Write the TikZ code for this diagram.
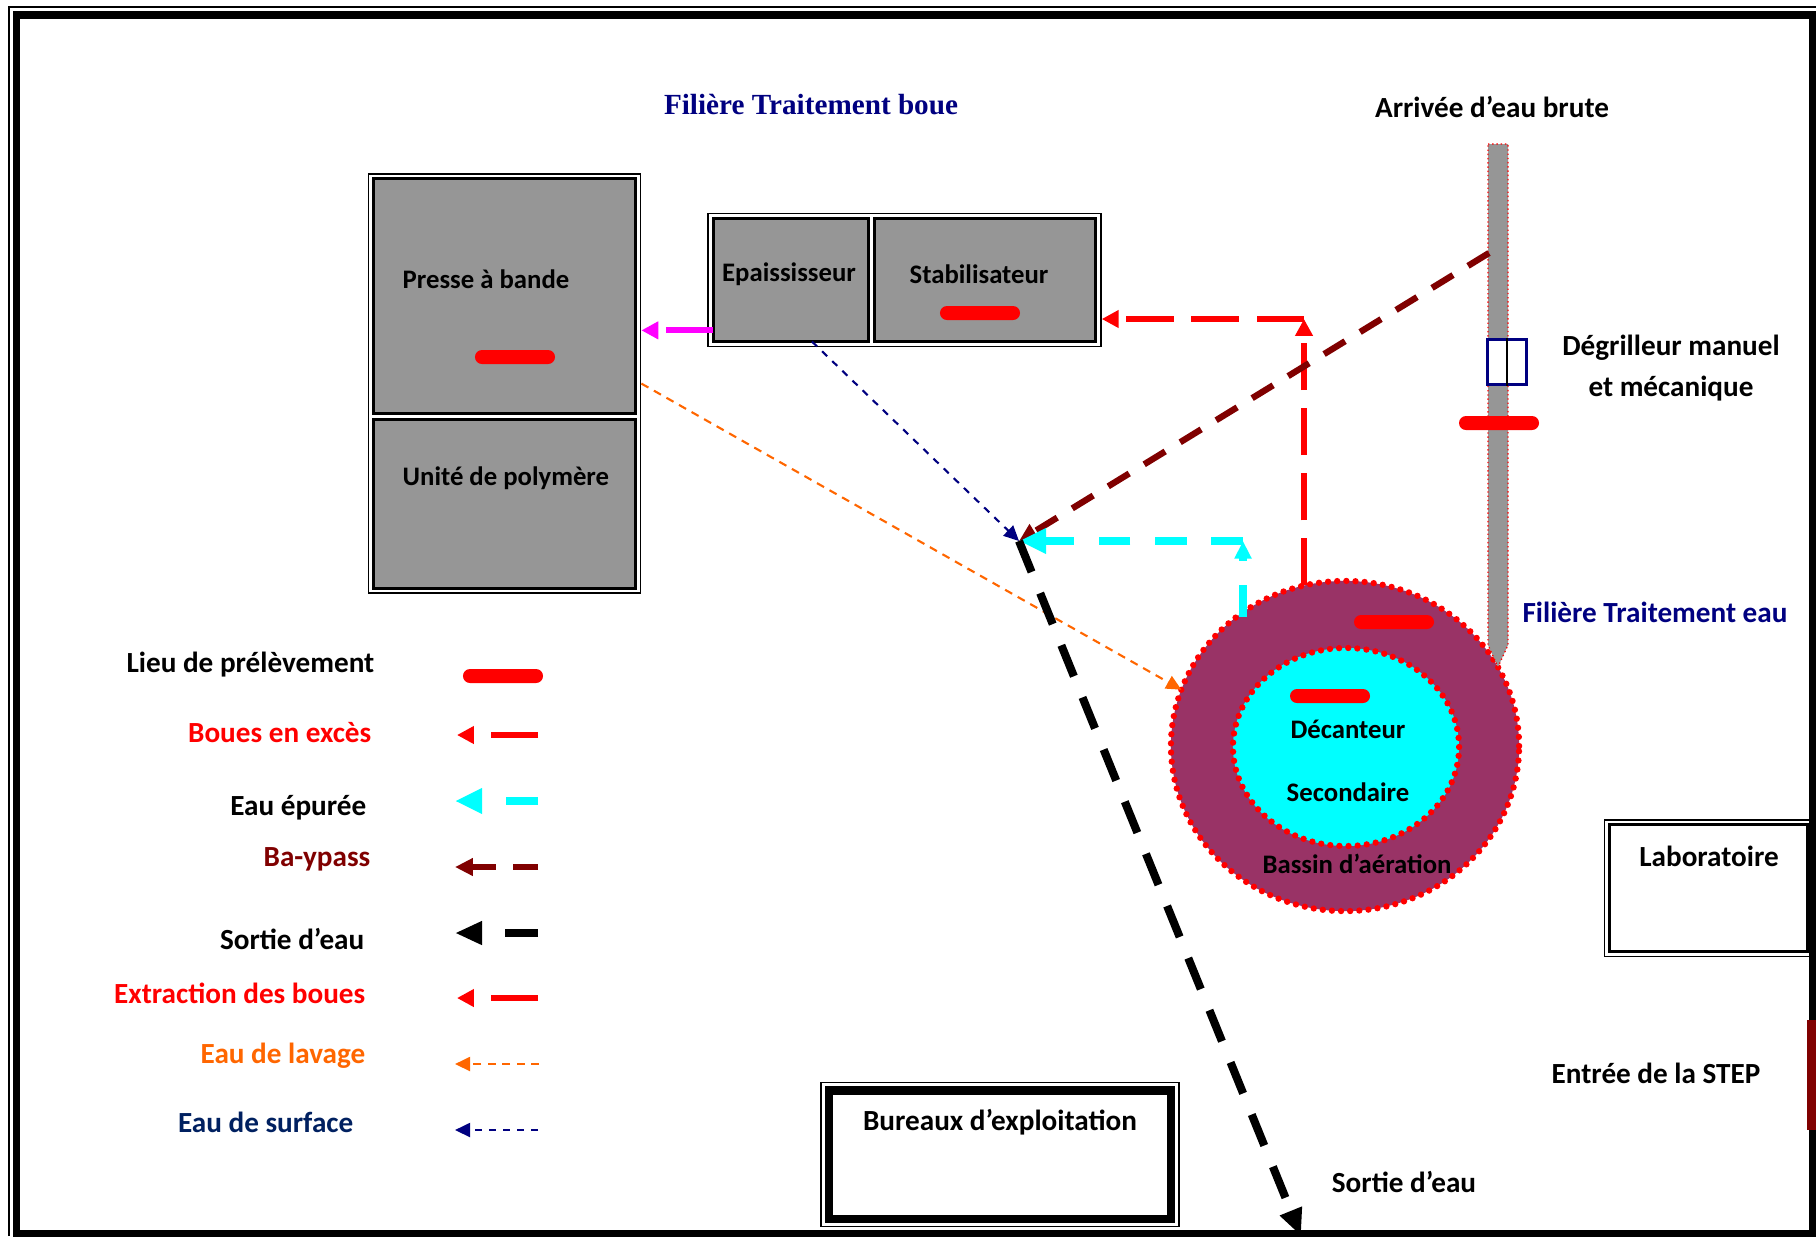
\documentclass[tikz,border=0pt]{standalone}
\usepackage{fontspec}
\setmainfont{Carlito}
\newfontfamily\serifbold{Liberation Serif}
\usetikzlibrary{arrows.meta,positioning,fit,shapes.geometric,calc}

\definecolor{unitgray}{HTML}{969696}
\definecolor{basinpurple}{HTML}{993366}
\definecolor{bypassred}{HTML}{800000}
\definecolor{lavageorange}{HTML}{FF6600}
\definecolor{filiereblue}{HTML}{000080}
\definecolor{surfaceblue}{HTML}{002060}
\definecolor{epureecyan}{HTML}{00FFFF}
\definecolor{purgemagenta}{HTML}{FF00FF}
\definecolor{samplered}{HTML}{FF0000}

\begin{document}
\begin{tikzpicture}[
    x=0.01cm, y=-0.01cm,
    font=\fontsize{8.3}{10}\selectfont\bfseries,
    unit/.style={draw, fill=unitgray, line width=0.85pt, inner sep=0pt, outer sep=0pt},
    unitframe/.style={draw, line width=0.45pt, inner sep=0.05cm},
    unittext/.style={inner sep=0pt, font=\fontsize{7.6}{9}\selectfont\bfseries},
    sample/.style={fill=samplered, rounded corners=0.07cm, minimum width=0.8cm, minimum height=0.14cm, inner sep=0pt},
    tank/.style={ellipse, draw=samplered, line width=1.8pt, dash pattern=on 0pt off 2.6pt, line cap=round, inner sep=0pt, outer sep=0pt},
    pipe/.style={fill=unitgray, draw=samplered, line width=0.35pt, dash pattern=on 0.4pt off 0.8pt},
    legendtext/.style={anchor=east, inner sep=0pt},
    excess/.style={draw=samplered, line width=1.7pt, dash pattern=on 13.5pt off 5pt, -{Triangle[length=4.8pt,width=4.8pt]}},
    purge/.style={excess, draw=purgemagenta},
    epuree/.style={draw=epureecyan, line width=2.2pt, dash pattern=on 9pt off 7pt, -{Triangle[length=7.7pt,width=6.8pt]}},
    bypass/.style={draw=bypassred, line width=1.8pt, dash pattern=on 7pt off 5pt, -{Triangle[length=5.1pt,width=4.8pt]}},
    sortie/.style={draw=black, line width=2.3pt, dash pattern=on 9.5pt off 6.5pt, -{Triangle[length=7.7pt,width=6.3pt]}},
    lavage/.style={draw=lavageorange, line width=0.6pt, dash pattern=on 2.3pt off 1.8pt, -{Triangle[length=4.3pt,width=4pt]}},
    surface/.style={draw=filiereblue, line width=0.6pt, dash pattern=on 2pt off 2pt, -{Triangle[length=4.3pt,width=4pt]}}
]
\useasboundingbox (0,0) rectangle (1816,1236);

% ---- page frame ----
\draw[line width=0.45pt] (9,1236) -- (9,7) -- (1816,7);
\draw[line width=2pt] (16.5,15) rectangle (1812,1233.5);

% ---- Filiere boue ----
\node[text=filiereblue, font=\serifbold\fontsize{8.3}{10}\selectfont\bfseries] (tfiliereboue) at (811,105) {Filière Traitement boue};

\node[unit, minimum width=2.62cm, minimum height=2.34cm] (presse) at (504.5,296) {};
\node[unit, minimum width=2.62cm, minimum height=1.69cm, below=0.06cm of presse] (polymere) {};
\node[unitframe, fit=(presse)(polymere)] (presseframe) {};
\node[unittext, anchor=west] (tpresse) at (402,279) {Presse à bande};
\node[unittext, anchor=west] (tpolymere) at (402,478) {Unité de polymère};

\node[unit, minimum width=1.55cm, minimum height=1.23cm] (epaiss) at (790.75,280) {};
\node[unit, minimum width=2.21cm, minimum height=1.23cm, right=0.065cm of epaiss] (stabil) {};
\node[unitframe, fit=(epaiss)(stabil)] (epaissframe) {};
\node[unittext] (tepaiss) at (789,274) {Epaississeur};
\node[unittext] (tstabil) at (979,274) {Stabilisateur};

% ---- Filiere eau ----
\node (tarrivee) at (1492,107) {Arrivée d’eau brute};
\node[tank, fill=basinpurple, minimum width=3.48cm, minimum height=3.30cm] (basin) at (1345,746) {};
\node[tank, fill=epureecyan, minimum width=2.26cm, minimum height=1.98cm] (decanteur) at (1346,747) {};
\node[unittext] (tdecant) at (1348,729) {Décanteur};
\node[unittext] (tsecond) at (1348,792) {Secondaire};
\node[unittext] (tbassin) at (1357,864) {Bassin d’aération};

\draw[pipe] (1488,144) -- (1508,144) -- (1508,645) -- (1498,667) -- (1488,645) -- cycle;
\node[draw=filiereblue, fill=white, line width=0.6pt, minimum width=0.39cm, minimum height=0.45cm, inner sep=0pt] (degrilleur) at (1507,362) {};
\draw[line width=0.6pt] (degrilleur.north) -- (degrilleur.south);
\node[align=center, font=\fontsize{8.3}{11.9}\selectfont\bfseries] (tdegrilleur) at (1671,368) {Dégrilleur manuel\\et mécanique};
\node[text=filiereblue] (tfiliereeau) at (1655,612) {Filière Traitement eau};

% ---- batiments ----
\node[unit, fill=white, minimum width=1.98cm, minimum height=1.265cm] (labo) at (1708.5,888) {};
\node[unitframe, fit=(labo)] (laboframe) {};
\node (tlabo) at (1709,856) {Laboratoire};

\node[draw, line width=2.3pt, minimum width=3.42cm, minimum height=1.28cm, inner sep=0pt, outer sep=0pt] (bureaux) at (1000,1154.5) {};
\node[unitframe, inner sep=0.08cm, fit=(bureaux)] (bureauxframe) {};
\node (tbureaux) at (1000,1122) {Bureaux d’exploitation};

\node[fill=bypassred, minimum width=0.09cm, minimum height=1.1cm, inner sep=0pt] (entreebar) at (1811.5,1075) {};
\node (tentree) at (1656,1073) {Entrée de la STEP};
\node (tsortie) at (1404,1182) {Sortie d’eau};

% ---- circuits ----
\coordinate (junction) at (1019,541);
\coordinate (excesscorner) at (1304,319);
\coordinate (epureecorner) at (1243,541);
\coordinate (pipetap) at (1489,253);
\coordinate (sortieend) at (1301,1236);

\draw[lavage] (presseframe.east) -- (basin.161);
\draw[surface] (epaiss.-71) -- (junction);
\draw[purge] (epaiss.213) -- (epaiss.213 -| presseframe.east);
\draw[excess] (excesscorner |- basin.104) -- (excesscorner);
\draw[excess] (excesscorner) -- (excesscorner -| epaissframe.east);
\draw[bypass] (pipetap) -- (junction);
\draw[epuree, -{Triangle[length=5pt,width=4.6pt]}] (epureecorner |- basin.130) -- (epureecorner);
\draw[epuree] (epureecorner) -- (junction);
\draw[sortie] (junction) -- (sortieend);

% ---- points de prelevement ----
\node[sample] (spresse) at (515,357) {};
\node[sample] (sstabil) at (980,313) {};
\node[sample] (spipe) at (1499,423) {};
\node[sample] (sbasin) at (1394,622) {};
\node[sample] (sdecant) at (1330,696) {};

% ---- legende ----
\node[legendtext] (lglieu) at (375,665) {Lieu de prélèvement};
\node[legendtext, text=samplered] (lgexcess) at (372,733) {Boues en excès};
\node[legendtext] (lgepuree) at (367,808) {Eau épurée};
\node[legendtext, text=bypassred] (lgbypass) at (371,859) {Ba-ypass};
\node[legendtext] (lgsortie) at (365,939) {Sortie d’eau};
\node[legendtext, text=samplered] (lgextract) at (366,993) {Extraction des boues};
\node[legendtext, text=lavageorange] (lglavage) at (366,1056) {Eau de lavage};
\node[legendtext, text=surfaceblue] (lgsurface) at (354,1122) {Eau de surface};

\node[sample] (slegend) at (503,676) {};
\coordinate (kexcessR) at (538,735);   \coordinate (kexcessL) at (457,735);
\coordinate (kepureeR) at (538,801);   \coordinate (kepureeL) at (455,801);
\coordinate (kbypassR) at (538,867);   \coordinate (kbypassL) at (455,867);
\coordinate (ksortieR) at (538,933);   \coordinate (ksortieL) at (455,933);
\coordinate (kextractR) at (538,998);  \coordinate (kextractL) at (457,998);
\coordinate (klavageR) at (539,1064);  \coordinate (klavageL) at (455,1064);
\coordinate (ksurfaceR) at (538,1130); \coordinate (ksurfaceL) at (455,1130);
\draw[excess] (kexcessR) -- (kexcessL);
\draw[epuree] (kepureeR) -- (kepureeL);
\draw[bypass] (kbypassR) -- (kbypassL);
\draw[sortie] (ksortieR) -- (ksortieL);
\draw[excess] (kextractR) -- (kextractL);
\draw[lavage] (klavageR) -- (klavageL);
\draw[surface] (ksurfaceR) -- (ksurfaceL);

\end{tikzpicture}
\end{document}
